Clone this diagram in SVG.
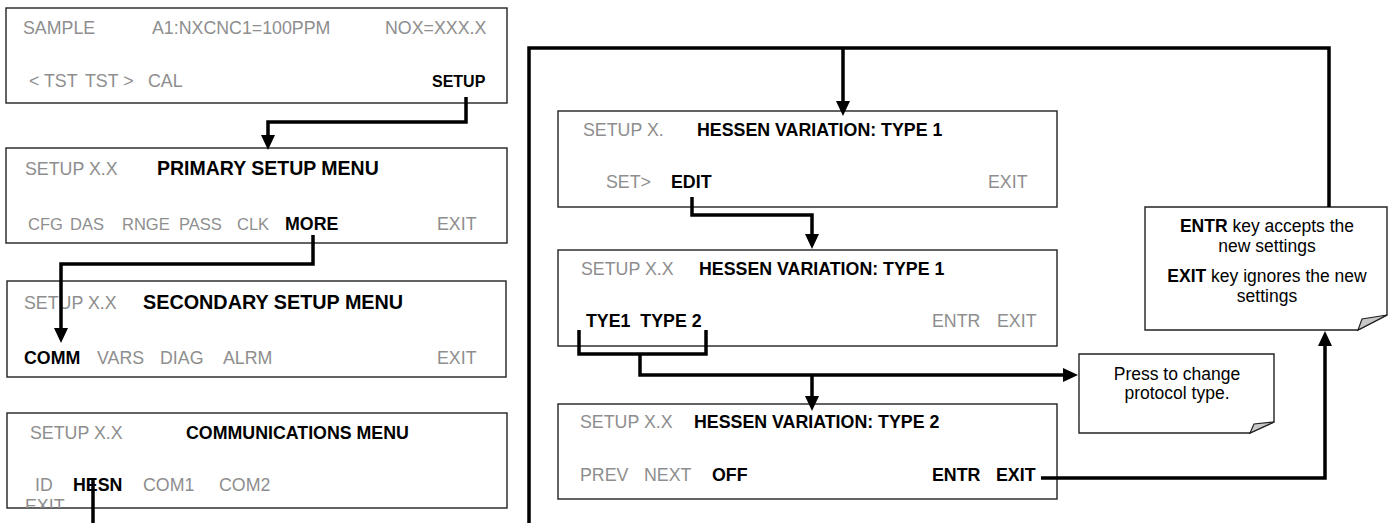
<svg xmlns="http://www.w3.org/2000/svg" width="1395" height="523" viewBox="0 0 1395 523">
<style>
text{font-family:"Liberation Sans",Arial,sans-serif;font-size:17.8px}
.g{fill:#8e8e8e}
.b{fill:#000;font-weight:bold}
.box{fill:#fff;stroke:#222;stroke-width:1.4}
.note{fill:#fff;stroke:#222;stroke-width:1.4}
.fold{fill:#c8c8c8;stroke:#222;stroke-width:1.2}
.c{fill:none;stroke:#000;stroke-width:3.5;stroke-linejoin:miter}
.n{fill:#000;text-anchor:middle;font-size:17.5px}
.s{font-size:16.5px}
</style>
<defs>
<marker id="ah" markerUnits="userSpaceOnUse" markerWidth="16" markerHeight="14" refX="0" refY="7" orient="auto">
<path d="M0,0 L15,7 L0,14 z" fill="#000"/>
</marker>
<clipPath id="clip4"><rect x="7" y="414" width="500" height="94"/></clipPath>
</defs>

<g id="box-sample">
<rect class="box" x="6" y="8" width="501" height="95"/>
<text class="g" x="23" y="34">SAMPLE</text>
<text class="g" x="152" y="34">A1:NXCNC1=100PPM</text>
<text class="g" x="385" y="34">NOX=XXX.X</text>
<text class="g" x="29" y="87">&lt; TST</text>
<text class="g" x="85" y="87">TST &gt;</text>
<text class="g" x="148" y="87">CAL</text>
<text class="b" x="432" y="87" style="font-size:16px">SETUP</text>
</g>

<g id="box-primary">
<rect class="box" x="6" y="148" width="501" height="95"/>
<text class="g" x="25" y="175">SETUP X.X</text>
<text class="b" x="157" y="175" style="font-size:19.5px">PRIMARY SETUP MENU</text>
<text class="g s" x="28" y="230">CFG</text>
<text class="g s" x="70" y="230">DAS</text>
<text class="g s" x="122" y="230">RNGE</text>
<text class="g s" x="179" y="230">PASS</text>
<text class="g s" x="237" y="230">CLK</text>
<text class="b" x="285" y="230">MORE</text>
<text class="g" x="437" y="230">EXIT</text>
</g>

<g id="box-secondary">
<rect class="box" x="7" y="281" width="499" height="96"/>
<text class="g" x="24" y="309">SETUP X.X</text>
<text class="b" x="143" y="309" style="font-size:19.8px">SECONDARY SETUP MENU</text>
<text class="b" x="24" y="364">COMM</text>
<text class="g" x="97" y="364">VARS</text>
<text class="g" x="160" y="364">DIAG</text>
<text class="g" x="223" y="364">ALRM</text>
<text class="g" x="437" y="364">EXIT</text>
</g>

<g id="box-comm">
<rect class="box" x="7" y="413" width="500" height="95"/>
<text class="g" x="30" y="439">SETUP X.X</text>
<text class="b" x="186" y="439">COMMUNICATIONS MENU</text>
<text class="g" x="35" y="491">ID</text>
<text class="b" x="73" y="491">HESN</text>
<text class="g" x="143" y="491">COM1</text>
<text class="g" x="219" y="491">COM2</text>
<text class="g" x="25" y="512" clip-path="url(#clip4)">EXIT</text>
</g>

<g id="box-hessen1">
<rect class="box" x="558" y="111" width="499" height="96"/>
<text class="g" x="583" y="136">SETUP X.</text>
<text class="b" x="697" y="136">HESSEN VARIATION: TYPE 1</text>
<text class="g" x="606" y="188">SET&gt;</text>
<text class="b" x="671" y="188">EDIT</text>
<text class="g" x="988" y="188">EXIT</text>
</g>

<g id="box-hessen2">
<rect class="box" x="558" y="250" width="499" height="96"/>
<text class="g" x="581" y="275">SETUP X.X</text>
<text class="b" x="699" y="275">HESSEN VARIATION: TYPE 1</text>
<text class="b" x="586" y="327" xml:space="preserve">TYE1  TYPE 2</text>
<text class="g" x="932" y="327">ENTR</text>
<text class="g" x="997" y="327">EXIT</text>
</g>

<g id="box-hessen3">
<rect class="box" x="558" y="404" width="499" height="95"/>
<text class="g" x="580" y="428">SETUP X.X</text>
<text class="b" x="694" y="428">HESSEN VARIATION: TYPE 2</text>
<text class="g" x="580" y="481">PREV</text>
<text class="g" x="644" y="481">NEXT</text>
<text class="b" x="712" y="481">OFF</text>
<text class="b" x="932" y="481">ENTR</text>
<text class="b" x="996" y="481">EXIT</text>
</g>

<g id="note-entr">
<polygon class="note" points="1145,207 1387,207 1387,315 1358,330 1145,330"/>
<polygon class="fold" points="1358,330 1387,315 1362,319"/>
<text class="n" x="1267" y="232"><tspan font-weight="bold">ENTR</tspan> key accepts the</text>
<text class="n" x="1267" y="252">new settings</text>
<text class="n" x="1267" y="282"><tspan font-weight="bold">EXIT</tspan> key ignores the new</text>
<text class="n" x="1267" y="302">settings</text>
</g>

<g id="note-press">
<polygon class="note" points="1079,354 1274,354 1274,422 1250,433 1079,433"/>
<polygon class="fold" points="1250,433 1274,422 1254,424"/>
<text class="n" x="1177" y="380">Press to change</text>
<text class="n" x="1177" y="399">protocol type.</text>
</g>

<g id="connectors">
<path class="c" d="M466,97 V122 H268 V135" marker-end="url(#ah)"/>
<path class="c" d="M313,235 V264 H61 V328" marker-end="url(#ah)"/>
<path class="c" d="M93,478 V523"/>
<path class="c" d="M529,523 V48 H1329 V207"/>
<path class="c" d="M843,48 V101" marker-end="url(#ah)"/>
<path class="c" d="M692,197 V215 H812 V234" marker-end="url(#ah)"/>
<path class="c" d="M579,330 V354 H706 V330"/>
<path class="c" d="M640,354 V375 H1063" marker-end="url(#ah)"/>
<path class="c" d="M812,375 V396" marker-end="url(#ah)"/>
<path class="c" d="M1041,478 H1325 V346" marker-end="url(#ah)"/>
</g>
</svg>
